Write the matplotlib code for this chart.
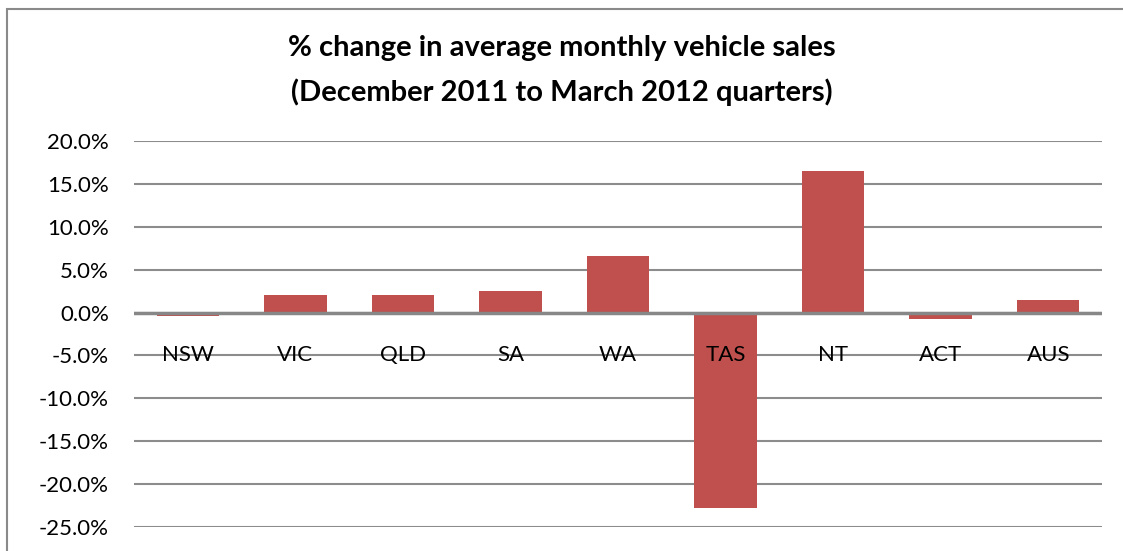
import matplotlib
matplotlib.use('Agg')
import matplotlib.pyplot as plt
from matplotlib.ticker import FuncFormatter
from matplotlib.patches import Rectangle

plt.rcParams['font.family'] = ['Lato', 'DejaVu Sans']

# data (% change)
states = ['NSW', 'VIC', 'QLD', 'SA', 'WA', 'TAS', 'NT', 'ACT', 'AUS']
pct_change = [-0.45, 2.0, 2.0, 2.5, 6.6, -22.8, 16.5, -0.8, 1.5]
y_ticks = [20, 15, 10, 5, 0, -5, -10, -15, -20, -25]

fig = plt.figure(figsize=(11.23, 5.51), dpi=100)

# outer chart border (gray frame, runs off right and bottom edges)
fig.patches.append(Rectangle((7 / 1123, -0.1), 1.2, 1 - 9 / 551 + 0.1,
                             transform=fig.transFigure, fill=False,
                             edgecolor='#8a8a8a', linewidth=1.5))

ax = fig.add_axes([134 / 1123, 1 - 527 / 551, (1102 - 134) / 1123, (527 - 141) / 551])

x = range(len(states))
ax.bar(x, pct_change, width=0.58, color='#c0504d', zorder=2)

ax.set_ylim(-25, 20)
ax.set_xlim(-0.5, len(states) - 0.5)
ax.set_yticks(y_ticks)
ax.yaxis.set_major_formatter(FuncFormatter(lambda v, p: '%.1f%%' % v))
ax.tick_params(axis='y', length=0, labelsize=16, pad=18)
ax.set_xticks([])

ax.grid(axis='y', color='#8c8c8c', linewidth=1.5, zorder=0)
ax.axhline(0, color='#878787', linewidth=2.5, zorder=3)
for s in ax.spines.values():
    s.set_visible(False)

# category labels sit just under the zero line
for i, name in enumerate(states):
    ax.text(i, -5.0, name, ha='center', va='center', fontsize=16, zorder=4)

fig.text(0.5, 1 - 48 / 551, '% change in average monthly vehicle sales',
         ha='center', va='center', fontsize=21, fontweight='bold')
fig.text(0.5, 1 - 92 / 551, '(December 2011 to March 2012 quarters)',
         ha='center', va='center', fontsize=21, fontweight='bold')

fig.savefig('out.png', dpi=100)
